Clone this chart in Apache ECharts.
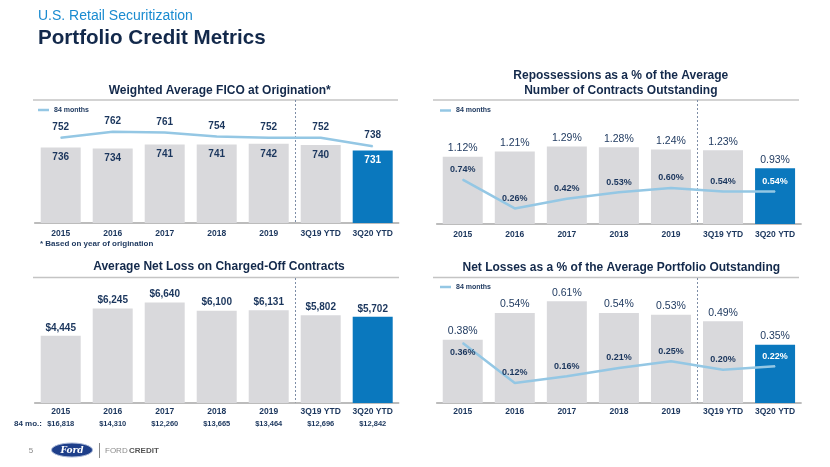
<!DOCTYPE html>
<html><head><meta charset="utf-8">
<script src="https://cdn.jsdelivr.net/npm/echarts@6/dist/echarts.min.js"></script>
<style>html,body{margin:0;padding:0;background:#fff}#c{width:830px;height:467px}</style>
</head><body><div id="c"></div>
<script>
// ---- data ----
const categories = ['2015','2016','2017','2018','2019','3Q19 YTD','3Q20 YTD'];
const ficoAll = [736,734,741,741,742,740,731];
const fico84 = [752,762,761,754,752,752,738];
const reposAll = [1.12,1.21,1.29,1.28,1.24,1.23,0.93];
const repos84 = [0.74,0.26,0.42,0.53,0.60,0.54,0.54];
const lossAll = [4445,6245,6640,6100,6131,5802,5702];
const loss84 = [16818,14310,12260,13665,13464,12696,12842];
const netAll = [0.38,0.54,0.61,0.54,0.53,0.49,0.35];
const net84 = [0.36,0.12,0.16,0.21,0.25,0.20,0.22];
const lineName = '84 months';

// ---- styles ----
const FONT = '"Liberation Sans", Arial, sans-serif';
const NAVY = '#1b365d';
const TITLE = '#13294b';
const GRAY = '#d9d9dc';
const BLUE = '#0a78be';
const LINE = '#94c7e4';
const LAST = categories.length - 1;

const pct = v => v.toFixed(2) + '%';
const usd = v => '$' + v.toLocaleString('en-US');

const chart = echarts.init(document.getElementById('c'), null, {renderer: 'canvas'});

function barData(arr, insideWhite) {
  return arr.map((v, i) => ({
    value: v,
    itemStyle: {color: i === LAST ? BLUE : GRAY},
    label: {color: (insideWhite && i === LAST) ? '#fff' : NAVY}
  }));
}
function lineData(arr, whiteLast, firstBottom) {
  return arr.map((v, i) => {
    const d = {value: v, label: {color: (whiteLast && i === LAST) ? '#fff' : NAVY}};
    if (firstBottom && i === 0) d.label.position = 'bottom';
    return d;
  });
}
function xAx(grid, margin) {
  return {
    type: 'category', gridIndex: grid, data: categories,
    axisLine: {lineStyle: {color: '#a6a6a6', width: 1.5}},
    axisTick: {show: false},
    axisLabel: {interval: 0, fontSize: 8.5, fontWeight: 'bold', color: NAVY, margin: margin, fontFamily: FONT}
  };
}
function yAx(grid, min, max) {
  return {type: 'value', gridIndex: grid, min: min, max: max, show: false, splitLine: {show: false}};
}
function legend(left, top) {
  return {
    left: left, top: top, padding: 0, data: [lineName], selectedMode: false,
    icon: 'rect', itemWidth: 11, itemHeight: 2.5, itemGap: 5,
    textStyle: {fontSize: 7, fontWeight: 'bold', color: NAVY, fontFamily: FONT}
  };
}
const lineBase = {
  type: 'line', name: lineName, symbol: 'circle', symbolSize: 1, showSymbol: true,
  lineStyle: {color: LINE, width: 2.5}, itemStyle: {color: LINE},
  silent: true
};

function txt(text, x, y, size, weight, fill, align, extra) {
  return Object.assign({
    type: 'text', x: x, y: y, silent: true,
    style: {text: text, fontSize: size, fontWeight: weight, fontFamily: FONT, fill: fill,
            align: align || 'center', verticalAlign: 'middle', lineHeight: 15}
  }, extra || {});
}
function hline(x1, x2, y, color, w) {
  return {type: 'line', silent: true, shape: {x1: x1, y1: y, x2: x2, y2: y}, style: {stroke: color, lineWidth: w}};
}

const baseGraphics = [
  txt('U.S. Retail Securitization', 38, 16, 14, 'normal', '#1a8bd0', 'left'),
  txt('Portfolio Credit Metrics', 38, 38, 20.6, 'bold', TITLE, 'left'),
  txt('Weighted Average FICO at Origination*', 219.7, 90.7, 12, 'bold', TITLE),
  txt('Repossessions as a % of the Average\nNumber of Contracts Outstanding', 620.8, 83.5, 12, 'bold', TITLE),
  txt('Average Net Loss on Charged-Off Contracts', 219, 267, 12, 'bold', TITLE),
  txt('Net Losses as a % of the Average Portfolio Outstanding', 621.3, 268, 12, 'bold', TITLE),
  hline(33, 398, 100, '#c4c4c4', 1.5),
  hline(433, 799, 100, '#c4c4c4', 1.5),
  hline(33, 399, 277.5, '#c4c4c4', 1.5),
  hline(433, 799, 277.5, '#c4c4c4', 1.5),
  txt('* Based on year of origination', 40, 244, 8, 'bold', NAVY, 'left'),
  txt('84 mo.:', 42, 424, 8, 'bold', NAVY, 'right'),
  txt('5', 31, 451, 8, 'normal', '#8a8a8a', 'center'),
  {type: 'ellipse', silent: true, shape: {cx: 72, cy: 450, rx: 20.5, ry: 7},
   style: {fill: '#1e3f8a', stroke: '#aab8d6', lineWidth: 1}},
  {type: 'text', x: 72, y: 450.5, silent: true,
   style: {text: 'Ford', fontSize: 9, fontStyle: 'italic', fontWeight: 'bold', fontFamily: '"DejaVu Serif", serif',
           fill: '#fff', align: 'center', verticalAlign: 'middle'}},
  {type: 'line', silent: true, shape: {x1: 99.5, y1: 443, x2: 99.5, y2: 458}, style: {stroke: '#8a8a8a', lineWidth: 1}},
  txt('FORD', 105, 451, 8, 'normal', '#8c8c8c', 'left'),
  txt('CREDIT', 129, 451, 8, 'bold', '#555', 'left')
];

const option = {
  animation: false,
  textStyle: {fontFamily: FONT},
  grid: [
    {left: 34.7, top: 109, width: 364, height: 114},
    {left: 436.7, top: 104, width: 364.4, height: 120},
    {left: 34.7, top: 282, width: 364, height: 121},
    {left: 436.7, top: 283, width: 364.4, height: 120}
  ],
  xAxis: [
    xAx(0, 6), xAx(1, 6), xAx(2, 4), xAx(3, 4.5),
    {
      type: 'category', gridIndex: 2, position: 'bottom', data: loss84.map(usd),
      axisLine: {show: false}, axisTick: {show: false},
      axisLabel: {interval: 0, fontSize: 7.5, fontWeight: 'bold', color: NAVY, margin: 17, fontFamily: FONT}
    }
  ],
  yAxis: [yAx(0, 610, 800), yAx(1, 0, 2), yAx(2, 0, 8000), yAx(3, 0, 0.72)],
  legend: [legend(38, 106.5), legend(440, 107), legend(440, 283.5)],
  series: [
    {type: 'bar', xAxisIndex: 0, yAxisIndex: 0, barWidth: 40, silent: true,
     data: barData(ficoAll, true),
     label: {show: true, position: 'insideTop', distance: 5, fontSize: 10, fontWeight: 'bold', fontFamily: FONT}},
    Object.assign({}, lineBase, {xAxisIndex: 0, yAxisIndex: 0, data: lineData(fico84, false, false),
     label: {show: true, position: 'top', distance: 5, fontSize: 10, fontWeight: 'bold', fontFamily: FONT}}),

    {type: 'bar', xAxisIndex: 1, yAxisIndex: 1, barWidth: 40, silent: true,
     data: barData(reposAll, false),
     label: {show: true, position: 'top', distance: 3, fontSize: 10.5, fontWeight: 'normal', fontFamily: FONT, formatter: p => pct(p.value)}},
    Object.assign({}, lineBase, {xAxisIndex: 1, yAxisIndex: 1, data: lineData(repos84, true, false),
     label: {show: true, position: 'top', distance: 5, fontSize: 9, fontWeight: 'bold', fontFamily: FONT, formatter: p => pct(p.value)}}),

    {type: 'bar', xAxisIndex: 2, yAxisIndex: 2, barWidth: 40, silent: true,
     data: barData(lossAll, false),
     label: {show: true, position: 'top', distance: 3, fontSize: 10, fontWeight: 'bold', fontFamily: FONT, formatter: p => usd(p.value)}},

    {type: 'bar', xAxisIndex: 3, yAxisIndex: 3, barWidth: 40, silent: true,
     data: barData(netAll, false),
     label: {show: true, position: 'top', distance: 3, fontSize: 10.5, fontWeight: 'normal', fontFamily: FONT, formatter: p => pct(p.value)}},
    Object.assign({}, lineBase, {xAxisIndex: 3, yAxisIndex: 3, data: lineData(net84, true, true),
     label: {show: true, position: 'top', distance: 5, fontSize: 9, fontWeight: 'bold', fontFamily: FONT, formatter: p => pct(p.value)}})
  ],
  graphic: baseGraphics
};
chart.setOption(option);

// dashed dividers between 2019 and 3Q19 YTD, placed via the axes
const spans = [[0, 100, 223], [1, 100, 224.5], [2, 278, 403], [3, 278, 403]];
const dividers = spans.map(([ax, y1, y2]) => {
  const a = chart.convertToPixel({xAxisIndex: ax}, categories[4]);
  const b = chart.convertToPixel({xAxisIndex: ax}, categories[5]);
  const x = Math.round((a + b) / 2) + 0.5;
  return {type: 'line', silent: true, shape: {x1: x, y1: y1, x2: x, y2: y2},
          style: {stroke: '#7d8da6', lineWidth: 1, lineDash: [2, 2]}};
});
chart.setOption({graphic: baseGraphics.concat(dividers)});
</script>
</body></html>
